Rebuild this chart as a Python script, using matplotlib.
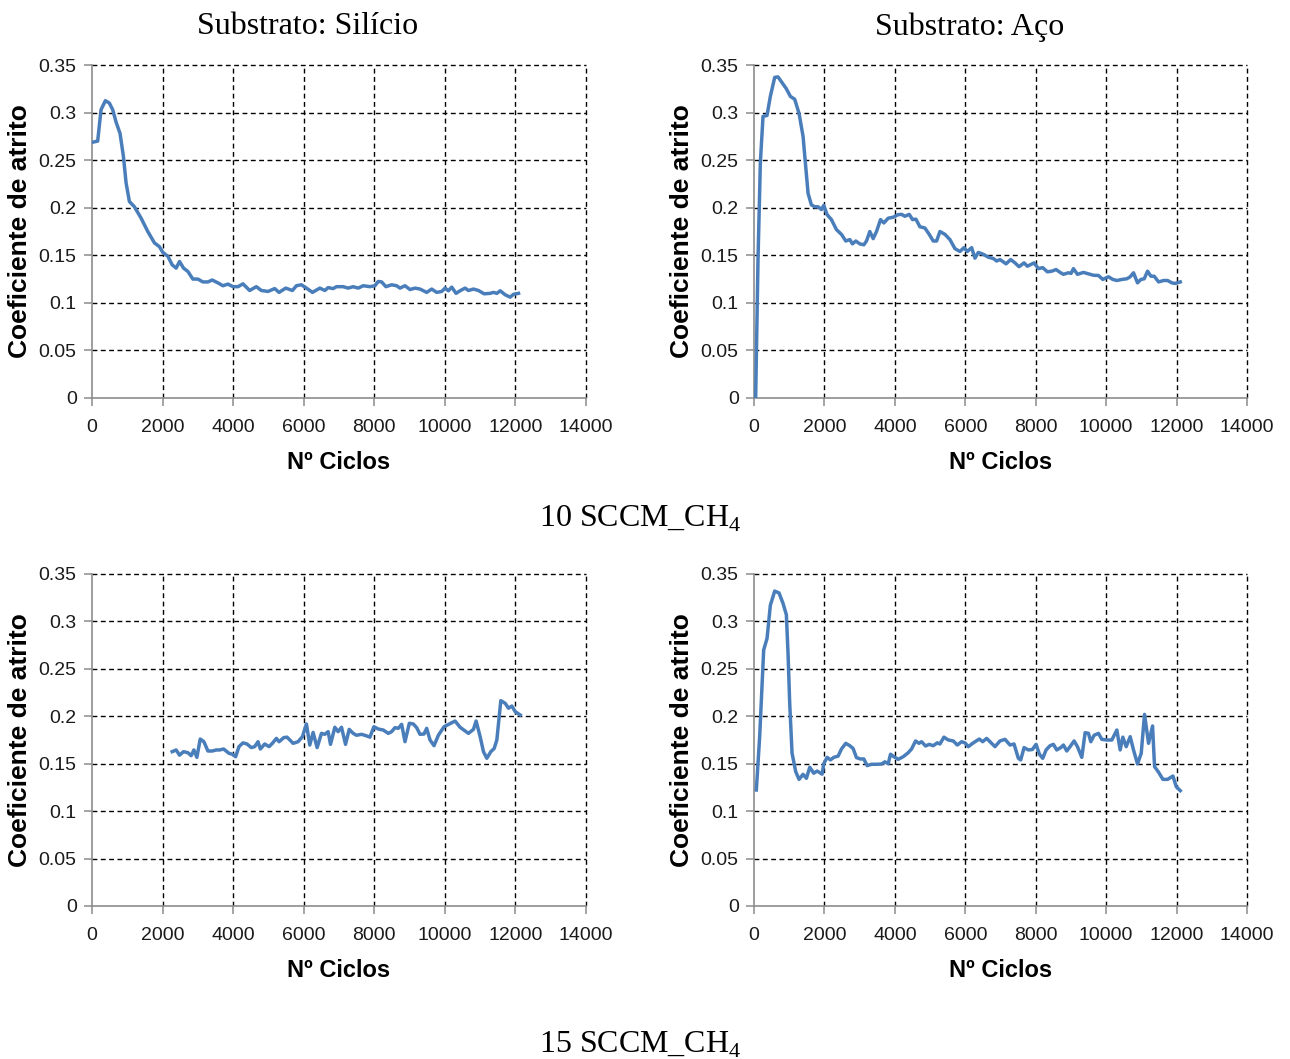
import matplotlib
matplotlib.use("Agg")
import matplotlib.pyplot as plt
import numpy as np

# ---------------- data ----------------
si10_x = [38, 161, 256, 379, 492, 587, 682, 795, 890, 966, 1060, 1202, 1392, 1581, 1770, 1912,
          2007, 2149, 2272, 2385, 2480, 2594, 2717, 2859, 3001, 3143, 3285, 3408, 3569, 3711,
          3853, 3995, 4137, 4279, 4468, 4657, 4799, 4989, 5178, 5301, 5490, 5680, 5793, 5935,
          6077, 6248, 6456, 6598, 6692, 6834, 6929, 7118, 7260, 7402, 7544, 7686, 7876, 8018,
          8112, 8207, 8330, 8491, 8633, 8728, 8870, 9012, 9154, 9296, 9485, 9627, 9769, 9911,
          10006, 10100, 10195, 10318, 10431, 10573, 10668, 10810, 10952, 11113, 11283, 11378,
          11473, 11568, 11709, 11851, 11946, 12088]
si10_y = [0.269, 0.270, 0.303, 0.3125, 0.310, 0.303, 0.290, 0.278, 0.254, 0.226, 0.2065, 0.201,
          0.189, 0.175, 0.163, 0.159, 0.153, 0.149, 0.140, 0.1365, 0.1435, 0.1365, 0.133, 0.125,
          0.125, 0.122, 0.122, 0.124, 0.121, 0.118, 0.1197, 0.117, 0.117, 0.120, 0.113, 0.117,
          0.113, 0.112, 0.115, 0.111, 0.1155, 0.113, 0.118, 0.119, 0.1155, 0.111, 0.1155, 0.113,
          0.116, 0.115, 0.117, 0.117, 0.1155, 0.117, 0.1155, 0.118, 0.117, 0.118, 0.1225, 0.122,
          0.117, 0.119, 0.118, 0.1155, 0.118, 0.114, 0.1155, 0.1145, 0.111, 0.1145, 0.111, 0.112,
          0.1155, 0.1127, 0.1165, 0.110, 0.1127, 0.1155, 0.113, 0.1145, 0.113, 0.1095, 0.110,
          0.111, 0.110, 0.1127, 0.1085, 0.106, 0.109, 0.110]

aco10_x = [47, 114, 180, 256, 370, 464, 588, 682, 806, 919, 1033, 1156, 1280, 1393, 1469, 1536,
           1630, 1725, 1820, 1915, 1981, 2076, 2199, 2341, 2483, 2607, 2720, 2796, 2891, 3005,
           3119, 3194, 3289, 3384, 3479, 3593, 3687, 3811, 3953, 4095, 4190, 4285, 4408, 4503,
           4597, 4711, 4853, 4976, 5090, 5185, 5280, 5422, 5564, 5706, 5848, 5962, 6057, 6180,
           6275, 6370, 6512, 6654, 6796, 6891, 6986, 7157, 7289, 7413, 7526, 7669, 7763, 7953,
           8076, 8199, 8332, 8455, 8578, 8692, 8787, 8929, 9005, 9071, 9185, 9356, 9498, 9640,
           9782, 9906, 10000, 10067, 10190, 10304, 10446, 10588, 10683, 10777, 10891, 10986,
           11081, 11176, 11271, 11365, 11489, 11631, 11745, 11868, 11963, 12105]
aco10_y = [0.0, 0.146, 0.247, 0.296, 0.297, 0.317, 0.337, 0.3375, 0.331, 0.325, 0.317, 0.314,
           0.299, 0.275, 0.243, 0.215, 0.203, 0.201, 0.201, 0.198, 0.2025, 0.1927, 0.1875,
           0.177, 0.172, 0.165, 0.1665, 0.162, 0.165, 0.162, 0.161, 0.165, 0.175, 0.1675, 0.175,
           0.1875, 0.184, 0.189, 0.190, 0.1927, 0.193, 0.191, 0.193, 0.1875, 0.188, 0.180,
           0.1787, 0.172, 0.165, 0.165, 0.175, 0.172, 0.1665, 0.157, 0.154, 0.158, 0.154, 0.158,
           0.147, 0.153, 0.151, 0.148, 0.1466, 0.144, 0.1455, 0.141, 0.1455, 0.142, 0.138, 0.142,
           0.1385, 0.142, 0.136, 0.137, 0.1326, 0.1333, 0.135, 0.132, 0.130, 0.1316, 0.131,
           0.136, 0.130, 0.132, 0.1305, 0.129, 0.1288, 0.1246, 0.1263, 0.1274, 0.1246, 0.1235,
           0.1246, 0.1253, 0.1274, 0.1316, 0.121, 0.1246, 0.1253, 0.1333, 0.128, 0.128, 0.122,
           0.1235, 0.1235, 0.121, 0.1204, 0.122]

si15_x = [2272, 2385, 2480, 2594, 2717, 2811, 2887, 2972, 3067, 3171, 3285, 3408, 3521, 3616,
          3730, 3881, 3976, 4070, 4165, 4279, 4392, 4515, 4610, 4705, 4771, 4894, 5017, 5112,
          5225, 5301, 5434, 5528, 5699, 5840, 5964, 6077, 6172, 6266, 6380, 6503, 6598, 6692,
          6759, 6882, 6976, 7071, 7185, 7289, 7402, 7497, 7639, 7762, 7876, 7989, 8112, 8254,
          8396, 8491, 8586, 8680, 8775, 8870, 8993, 9106, 9201, 9296, 9409, 9485, 9580, 9693,
          9816, 9977, 10129, 10290, 10432, 10668, 10810, 10886, 11000, 11094, 11189, 11302,
          11397, 11473, 11586, 11709, 11804, 11899, 11993, 12135]
si15_y = [0.1627, 0.1645, 0.159, 0.1627, 0.1616, 0.1585, 0.1645, 0.1567, 0.176, 0.1732, 0.1634,
          0.1634, 0.1645, 0.1645, 0.1655, 0.161, 0.160, 0.1574, 0.168, 0.172, 0.1708, 0.167,
          0.168, 0.1732, 0.1655, 0.1708, 0.168, 0.1715, 0.1767, 0.1732, 0.1775, 0.178, 0.1715,
          0.1732, 0.1785, 0.1919, 0.1697, 0.183, 0.167, 0.182, 0.181, 0.1838, 0.1704, 0.1884,
          0.1838, 0.1884, 0.1704, 0.1862, 0.182, 0.180, 0.181, 0.1796, 0.178, 0.189, 0.1866,
          0.1855, 0.182, 0.1838, 0.188, 0.1873, 0.1915, 0.1732, 0.1926, 0.1919, 0.188, 0.181,
          0.1813, 0.1873, 0.175, 0.169, 0.180, 0.189, 0.1919, 0.195, 0.1884, 0.182, 0.1862,
          0.195, 0.1785, 0.1627, 0.1557, 0.1627, 0.166, 0.175, 0.2165, 0.2137, 0.2085, 0.2108,
          0.2049, 0.2014]

aco15_x = [66, 161, 275, 370, 464, 588, 711, 825, 919, 967, 1014, 1081, 1185, 1280, 1393, 1488,
           1583, 1697, 1792, 1934, 1981, 2076, 2171, 2265, 2389, 2483, 2607, 2720, 2815, 2910,
           3024, 3119, 3213, 3337, 3479, 3621, 3716, 3811, 3877, 3972, 4095, 4237, 4379, 4474,
           4588, 4683, 4758, 4872, 4976, 5090, 5204, 5280, 5394, 5517, 5659, 5773, 5896, 5991,
           6085, 6228, 6398, 6493, 6607, 6721, 6844, 6986, 7128, 7270, 7384, 7507, 7574, 7669,
           7792, 7905, 8010, 8105, 8199, 8294, 8408, 8503, 8597, 8711, 8787, 8882, 8996, 9090,
           9185, 9308, 9403, 9498, 9564, 9659, 9782, 9877, 10019, 10161, 10304, 10398, 10474,
           10569, 10683, 10777, 10891, 10996, 11090, 11204, 11318, 11375, 11489, 11612, 11745,
           11896, 11991, 12105]
aco15_y = [0.1223, 0.1785, 0.270, 0.282, 0.317, 0.332, 0.330, 0.319, 0.307, 0.266, 0.2136, 0.161,
           0.1416, 0.1335, 0.1388, 0.1346, 0.1462, 0.140, 0.1423, 0.139, 0.150, 0.1567, 0.154,
           0.1567, 0.158, 0.1655, 0.1715, 0.169, 0.166, 0.1564, 0.155, 0.155, 0.148, 0.1494,
           0.1494, 0.1497, 0.152, 0.150, 0.160, 0.1574, 0.1546, 0.1574, 0.1616, 0.1655, 0.174,
           0.1715, 0.1732, 0.1687, 0.1704, 0.169, 0.172, 0.1708, 0.178, 0.175, 0.174, 0.1697,
           0.1732, 0.172, 0.168, 0.172, 0.176, 0.1732, 0.1767, 0.1725, 0.168, 0.174, 0.1757,
           0.1697, 0.1708, 0.1557, 0.154, 0.167, 0.1645, 0.165, 0.1704, 0.160, 0.1557, 0.1645,
           0.169, 0.1704, 0.1645, 0.167, 0.1697, 0.1634, 0.169, 0.174, 0.168, 0.1567, 0.1827,
           0.182, 0.1732, 0.180, 0.182, 0.1757, 0.175, 0.175, 0.1855, 0.1645, 0.178, 0.168,
           0.1785, 0.1645, 0.1497, 0.161, 0.202, 0.1715, 0.1898, 0.1469, 0.141, 0.1335, 0.1335,
           0.137, 0.1258, 0.1216]

x_ticks = [0, 2000, 4000, 6000, 8000, 10000, 12000, 14000]
y_ticks = [0, 0.05, 0.1, 0.15, 0.2, 0.25, 0.3, 0.35]
y_tick_labels = ["0", "0.05", "0.1", "0.15", "0.2", "0.25", "0.3", "0.35"]
col_titles = ["Substrato: Silício", "Substrato: Aço"]
row_titles = ["10 SCCM_CH$_4$", "15 SCCM_CH$_4$"]
x_label = "Nº Ciclos"
y_label = "Coeficiente de atrito"

# ---------------- styling ----------------
plt.rcParams["mathtext.fontset"] = "custom"
plt.rcParams["mathtext.rm"] = "Liberation Serif"
plt.rcParams["font.family"] = ["Liberation Sans", "DejaVu Sans"]

LINE = "#4a7ebb"
GRAY = "#8c8c8c"

fig = plt.figure(figsize=(12.90, 10.59), dpi=100)
W, H = 1290, 1059

def px_axes(x0, y0, x1, y1):
    return fig.add_axes([x0 / W, 1 - y1 / H, (x1 - x0) / W, (y1 - y0) / H])

panels = [
    (px_axes(92, 65, 586, 398), si10_x, si10_y),
    (px_axes(754, 65, 1247, 398), aco10_x, aco10_y),
    (px_axes(92, 574, 586, 906), si15_x, si15_y),
    (px_axes(754, 574, 1247, 906), aco15_x, aco15_y),
]

for ax, xs, ys in panels:
    ax.plot(xs, ys, color=LINE, lw=2.5, solid_joinstyle="round", zorder=3)
    ax.set_xlim(0, 14000)
    ax.set_ylim(0, 0.35)
    ax.set_xticks(x_ticks)
    ax.set_xticklabels([str(t) for t in x_ticks])
    ax.set_yticks(y_ticks)
    ax.set_yticklabels(y_tick_labels)
    for s in ("top", "right"):
        ax.spines[s].set_visible(False)
    for s in ("left", "bottom"):
        ax.spines[s].set_color(GRAY)
        ax.spines[s].set_linewidth(1.2)
    ax.tick_params(axis="both", direction="out", length=6, width=1.1, color=GRAY,
                   labelsize=14, labelcolor="#1a1a1a")
    ax.tick_params(axis="x", pad=9)
    ax.tick_params(axis="y", pad=5)
    # dashed black grid (including borders at the max values)
    for xv in x_ticks[1:]:
        ax.axvline(xv, color="black", lw=1.0, ls=(0, (3.5, 2.5)), zorder=1, clip_on=False)
    for yv in y_ticks[1:]:
        ax.axhline(yv, color="black", lw=1.0, ls=(0, (3.5, 2.5)), zorder=1, clip_on=False)
    ax.set_xlabel(x_label, fontsize=17, fontweight="bold", labelpad=11)
    ax.set_ylabel(y_label, fontsize=19, fontweight="bold", labelpad=5)
    ax.set_facecolor("white")

serif = ["Liberation Serif", "DejaVu Serif"]
fig.text(308 / W, 1 - 27 / H, col_titles[0], ha="center", va="center", fontsize=23, family=serif)
fig.text(970 / W, 1 - 27 / H, col_titles[1], ha="center", va="center", fontsize=23, family=serif)
fig.text(640 / W, 1 - 519 / H, row_titles[0], ha="center", va="center", fontsize=23, family=serif)
fig.text(640 / W, 1 - 1045 / H, row_titles[1], ha="center", va="center", fontsize=23, family=serif)

fig.savefig("out.png", dpi=100, facecolor="white")
